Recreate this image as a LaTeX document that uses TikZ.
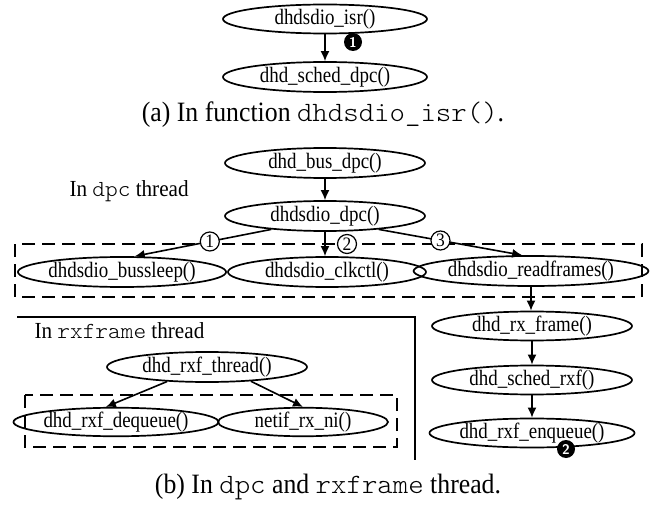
\documentclass[tikz,border=0pt]{standalone}
\usepackage{fontspec}
\setmainfont[FakeStretch=0.92]{Liberation Serif}
\setmonofont[FakeStretch=1.05]{lmmonolt10-regular.otf}
\newfontfamily\condserif[FakeStretch=0.86]{Liberation Serif}
\usetikzlibrary{arrows.meta,shapes.geometric}
\begin{document}
\begin{tikzpicture}[x=1pt,y=-1pt,
  fn/.style={ellipse,draw,line width=1.7pt,inner sep=0pt,minimum width=200pt,minimum height=30pt,font=\condserif\fontsize{22}{22}\selectfont},
  arr/.style={line width=1.6pt,-{Latex[length=10pt,width=9pt]}},
  dbox/.style={line width=1.4pt,dash pattern=on 13pt off 7pt},
  blk/.style={circle,fill=black,text=white,inner sep=0pt,minimum size=18pt,font=\sffamily\bfseries\fontsize{14}{14}\selectfont},
  cnum/.style={circle,draw,fill=white,line width=1.2pt,inner sep=0pt,minimum size=19pt,font=\fontsize{19}{19}\selectfont},
  captxt/.style={font=\fontsize{28}{28}\selectfont},
  lbl/.style={font=\fontsize{23}{23}\selectfont}]
\useasboundingbox (0,0) rectangle (651,508);
% (a)
\node[fn,minimum width=204pt,minimum height=29pt] (isr) at (325,19) {dhdsdio\_isr()};
\node[fn,minimum width=204pt] (scheddpc) at (325,77) {dhd\_sched\_dpc()};
\draw[arr] (isr) -- (scheddpc);
\node[blk] (b1) at (353,42) {1};
\node[captxt] (capa) at (323,115) {(a) In function \texttt{dhdsdio\_isr()}.};
% (b)
\draw[dbox] (15,244) rectangle (642,297);
\node[fn] (busdpc) at (325,163) {dhd\_bus\_dpc()};
\node[lbl,anchor=west] (dpclbl) at (66,191) {In \texttt{dpc} thread};
\node[fn] (sdiodpc) at (325,216) {dhdsdio\_dpc()};
\node[fn] (bussleep) at (122,272) {dhdsdio\_bussleep()};
\node[fn,minimum width=198pt] (clkctl) at (327,272) {dhdsdio\_clkctl()};
\node[fn,minimum width=202pt] (readfr) at (531,271) {dhdsdio\_readframes()};
\draw[arr] (busdpc) -- (sdiodpc);
\draw[arr] (sdiodpc.194) -- node[cnum,pos=0.45] (c1) {1} (bussleep.51);
\draw[arr] (sdiodpc.south) -- (sdiodpc.south |- clkctl.north);
\node[cnum] (c2) at (347,244) {2};
\draw[arr] (sdiodpc.346) -- node[cnum,pos=0.43] (c3) {3} (readfr.119);
\node[fn,minimum height=29pt] (rxframe) at (532,326) {dhd\_rx\_frame()};
\node[fn,minimum height=29pt] (schedrxf) at (532,380) {dhd\_sched\_rxf()};
\node[fn,minimum width=204pt,minimum height=29pt] (enq) at (532,433) {dhd\_rxf\_enqueue()};
\draw[arr] (readfr.south) -- (readfr.south |- rxframe.north);
\draw[arr] (rxframe) -- (schedrxf);
\draw[arr] (schedrxf) -- (enq);
\node[blk] (b2) at (566,449) {2};
% rxframe thread
\draw[line width=1.4pt] (17,317) -- (415,317) -- (415,460);
\node[lbl,anchor=west] (rxlbl) at (31,331) {In \texttt{rxframe} thread};
\node[fn] (rxfthread) at (207,367) {dhd\_rxf\_thread()};
\draw[dbox] (25,395) rectangle (397,447);
\node[fn,minimum width=164pt,minimum height=28pt] (deq) at (116,422) {dhd\_rxf\_dequeue()};
\node[fn,minimum width=170pt,minimum height=28pt] (netif) at (303,422) {netif\_rx\_ni()};
\draw[arr] (rxfthread.200) -- (deq.124);
\draw[arr] (rxfthread.342) -- (netif.north);
\node[captxt] (capb) at (328,487) {(b) In \texttt{dpc} and \texttt{rxframe} thread.};
\end{tikzpicture}
\end{document}
